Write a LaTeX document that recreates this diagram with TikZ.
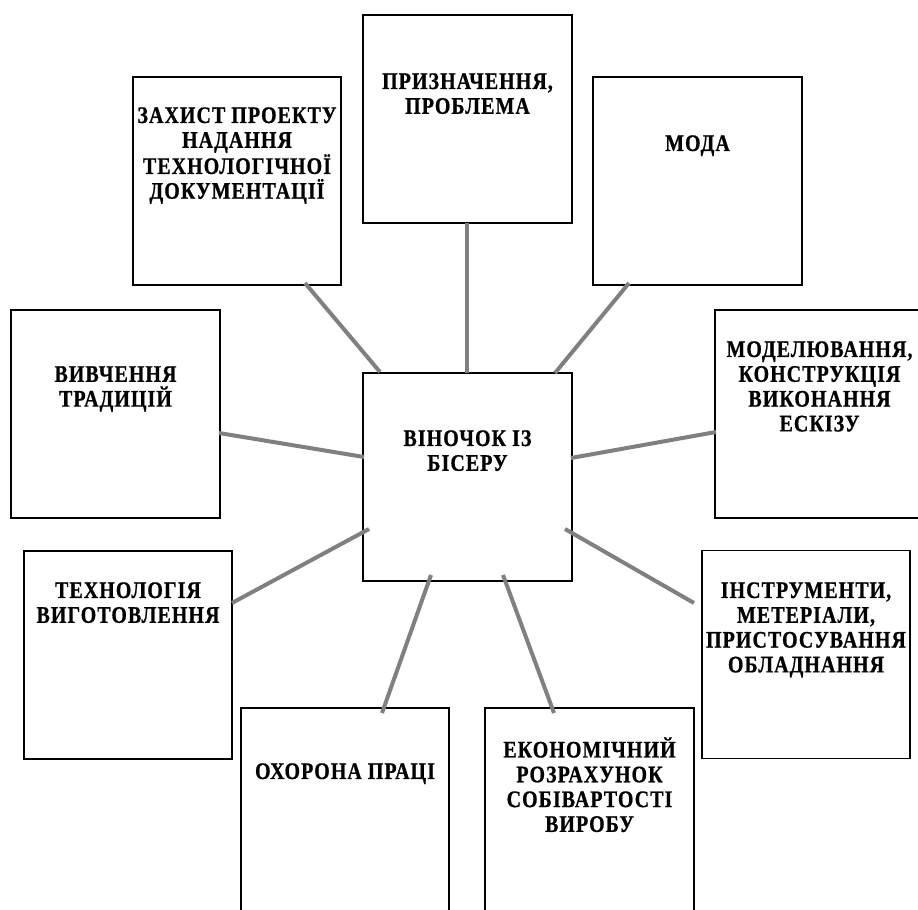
\documentclass[tikz,border=0pt]{standalone}
\usepackage{fontspec}
\setmainfont{Liberation Serif}
\newfontfamily\boxfont{Liberation Serif}[FakeStretch=0.84,LetterSpace=4.5,BoldFeatures={FakeBold=0.8}]
\begin{document}
\begin{tikzpicture}[x=0.75pt,y=-0.75pt,
  box/.style={draw=black,line width=1.3pt,minimum width=156.4pt,minimum height=156pt,inner sep=0pt},
  conn/.style={draw=black!50,line width=3pt},
  lbl/.style={font={\boxfont\fontsize{17.8pt}{18.6pt}\selectfont\bfseries},align=center,anchor=north,inner sep=0pt}]
\useasboundingbox (0,0) rectangle (918,910);
\clip (0,0) rectangle (918,910);
% boxes
\node[box] (zah)   at (237,181) {};
\node[box] (pryz)  at (467.5,119) {};
\node[box] (moda)  at (697.5,181) {};
\node[box] (vyv)   at (115.5,414) {};
\node[box] (model) at (819.5,414) {};
\node[box] (cen)   at (467.5,477) {};
\node[box] (tech)  at (128,655) {};
\node[box] (instr) at (806,654.5) {};
\node[box] (okh)   at (345,812) {};
\node[box] (ekon)  at (589.5,812) {};
% texts
\node[lbl] (tzah)   at (237,107) {ЗАХИСТ ПРОЕКТУ\\НАДАННЯ\\ТЕХНОЛОГІЧНОЇ\\ДОКУМЕНТАЦІЇ};
\node[lbl] (tpryz)  at (467.5,73) {ПРИЗНАЧЕННЯ,\\ПРОБЛЕМА};
\node[lbl] (tmoda)  at (697.5,135) {МОДА};
\node[lbl] (tvyv)   at (115.5,366) {ВИВЧЕННЯ\\ТРАДИЦІЙ};
\node[lbl] (tmodel) at (819.5,341) {МОДЕЛЮВАННЯ,\\КОНСТРУКЦІЯ\\ВИКОНАННЯ\\ЕСКІЗУ};
\node[lbl] (tcen)   at (467.5,430) {ВІНОЧОК ІЗ\\БІСЕРУ};
\node[lbl] (ttech)  at (128,582) {ТЕХНОЛОГІЯ\\ВИГОТОВЛЕННЯ};
\node[lbl] (tinstr) at (806,582) {ІНСТРУМЕНТИ,\\МЕТЕРІАЛИ,\\ПРИСТОСУВАННЯ\\ОБЛАДНАННЯ};
\node[lbl] (tokh)   at (345,763) {ОХОРОНА ПРАЦІ};
\node[lbl] (tekon)  at (589.5,737) {ЕКОНОМІЧНИЙ\\РОЗРАХУНОК\\СОБІВАРТОСТІ\\ВИРОБУ};
% connector ends
\coordinate (z1) at (305,283); \coordinate (z2) at (380,372);
\coordinate (p1) at (467,223); \coordinate (p2) at (467,373);
\coordinate (m1) at (629,283); \coordinate (m2) at (555,373);
\coordinate (v1) at (219,433); \coordinate (v2) at (364,457);
\coordinate (d1) at (571,458); \coordinate (d2) at (716,432);
\coordinate (t1) at (232,603); \coordinate (t2) at (369,529);
\coordinate (i1) at (565,529); \coordinate (i2) at (694,603);
\coordinate (o1) at (382,713); \coordinate (o2) at (431,575);
\coordinate (e1) at (503,575); \coordinate (e2) at (554,713);
% connectors
\draw[conn] (z1) -- (z2);
\draw[conn] (p1) -- (p2);
\draw[conn] (m1) -- (m2);
\draw[conn] (v1) -- (v2);
\draw[conn] (d1) -- (d2);
\draw[conn] (t1) -- (t2);
\draw[conn] (i1) -- (i2);
\draw[conn] (o1) -- (o2);
\draw[conn] (e1) -- (e2);
\end{tikzpicture}
\end{document}
